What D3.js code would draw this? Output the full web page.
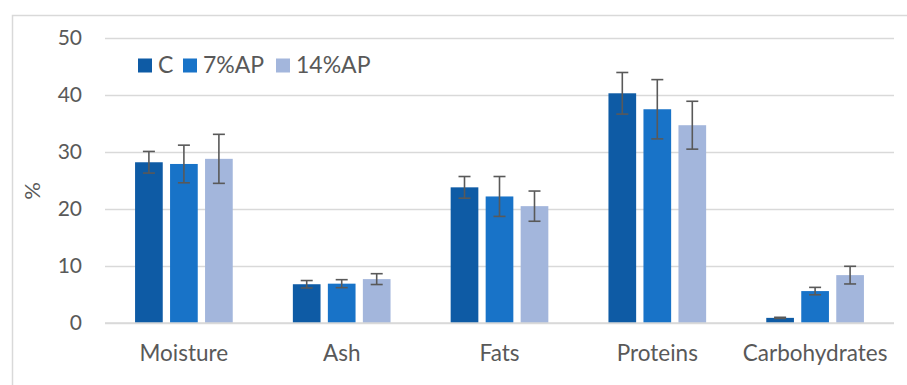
<!DOCTYPE html>
<html>
<head>
<meta charset="utf-8">
<script src="https://cdn.jsdelivr.net/npm/d3@7"></script>
<style>
  html, body { margin: 0; padding: 0; background: #fff; }
  svg { display: block; }
  text { font-family: Lato, "Open Sans", sans-serif; fill: #595959; }
</style>
</head>
<body>
<svg id="chart" width="907" height="385"></svg>
<script>
// Proximate composition (%) for control and apple-pomace formulations
const categories = ["Moisture", "Ash", "Fats", "Proteins", "Carbohydrates"];
const seriesNames = ["C", "7%AP", "14%AP"];
const valuesC    = [28.2, 6.8, 23.8, 40.3, 0.9];
const values7AP  = [27.9, 6.9, 22.2, 37.5, 5.6];
const values14AP = [28.8, 7.7, 20.5, 34.7, 8.4];
const errorsC    = [1.9, 0.65, 1.9, 3.65, 0.1];
const errors7AP  = [3.3, 0.7, 3.5, 5.2, 0.65];
const errors14AP = [4.3, 0.95, 2.65, 4.2, 1.55];
const yTicks = [0, 10, 20, 30, 40, 50];
const colors = ["#0E5BA5", "#1873C8", "#A3B6DC"];

const seriesValues = [valuesC, values7AP, values14AP];
const seriesErrors = [errorsC, errors7AP, errors14AP];

const svg = d3.select("#chart");
const W = 907, H = 385;
const margin = { left: 105, right: 13, top: 38, bottom: 62 };

// chart area frame (runs off the right and bottom edges)
svg.append("rect")
  .attr("x", 12.5).attr("y", 15.5)
  .attr("width", W + 10).attr("height", H + 10)
  .attr("fill", "none").attr("stroke", "#d9d9d9").attr("stroke-width", 1.5);

const x0 = d3.scaleBand()
  .domain(categories)
  .range([margin.left, W - margin.right])
  .paddingInner(0.381).paddingOuter(0.1905);

const x1 = d3.scaleBand()
  .domain(seriesNames)
  .range([0, x0.bandwidth()])
  .paddingInner(0.209).paddingOuter(0);

const y = d3.scaleLinear().domain([0, 50]).range([H - margin.bottom, margin.top]);

// horizontal gridlines
const yAxis = d3.axisLeft(y).tickValues(yTicks).tickSize(-(W - margin.right - margin.left)).tickPadding(23);
const gy = svg.append("g").attr("transform", `translate(${margin.left},0)`).call(yAxis);
gy.select(".domain").remove();
gy.selectAll(".tick line").attr("stroke", "#d9d9d9").attr("stroke-width", 1.5);
gy.selectAll(".tick text").style("font-size", "21px").attr("fill", "#595959");

// bars
const groups = svg.append("g").selectAll("g")
  .data(categories)
  .join("g")
  .attr("transform", c => `translate(${x0(c)},0)`);

groups.selectAll("rect")
  .data((c, i) => seriesNames.map((s, k) => ({ s, k, v: seriesValues[k][i] })))
  .join("rect")
  .attr("x", d => x1(d.s))
  .attr("y", d => y(d.v))
  .attr("width", x1.bandwidth())
  .attr("height", d => y(0) - y(d.v))
  .attr("fill", d => colors[d.k]);

// baseline drawn over bar bottoms
svg.append("line")
  .attr("x1", margin.left).attr("x2", W - margin.right)
  .attr("y1", y(0)).attr("y2", y(0))
  .attr("stroke", "#d9d9d9").attr("stroke-width", 1.5);

// error bars
const err = groups.selectAll("g.err")
  .data((c, i) => seriesNames.map((s, k) => ({ s, v: seriesValues[k][i], e: seriesErrors[k][i] })))
  .join("g").attr("class", "err")
  .attr("stroke", "#595959").attr("stroke-width", 1.6);
const cx = d => x1(d.s) + x1.bandwidth() / 2;
err.append("line")
  .attr("x1", cx).attr("x2", cx)
  .attr("y1", d => y(d.v + d.e)).attr("y2", d => y(d.v - d.e));
err.append("line")
  .attr("x1", d => cx(d) - 6).attr("x2", d => cx(d) + 6)
  .attr("y1", d => y(d.v + d.e)).attr("y2", d => y(d.v + d.e));
err.append("line")
  .attr("x1", d => cx(d) - 6).attr("x2", d => cx(d) + 6)
  .attr("y1", d => y(d.v - d.e)).attr("y2", d => y(d.v - d.e));

// category axis labels
const xAxis = d3.axisBottom(x0).tickSize(0).tickPadding(22);
const gx = svg.append("g").attr("transform", `translate(0,${y(0)})`).call(xAxis);
gx.select(".domain").remove();
gx.selectAll(".tick text").style("font-size", "22.5px").attr("fill", "#595959");

// y axis title
svg.append("text")
  .attr("transform", `translate(40,191) rotate(-90)`)
  .attr("text-anchor", "middle")
  .style("font-size", "22px")
  .text("%");

// legend
const legend = svg.append("g");
const legendX = [138, 183, 276];
seriesNames.forEach((s, k) => {
  legend.append("rect")
    .attr("x", legendX[k]).attr("y", 58.5)
    .attr("width", 14).attr("height", 14)
    .attr("fill", colors[k]);
  legend.append("text")
    .attr("x", legendX[k] + 20).attr("y", 73)
    .style("font-size", "23px")
    .text(s);
});
</script>
</body>
</html>
